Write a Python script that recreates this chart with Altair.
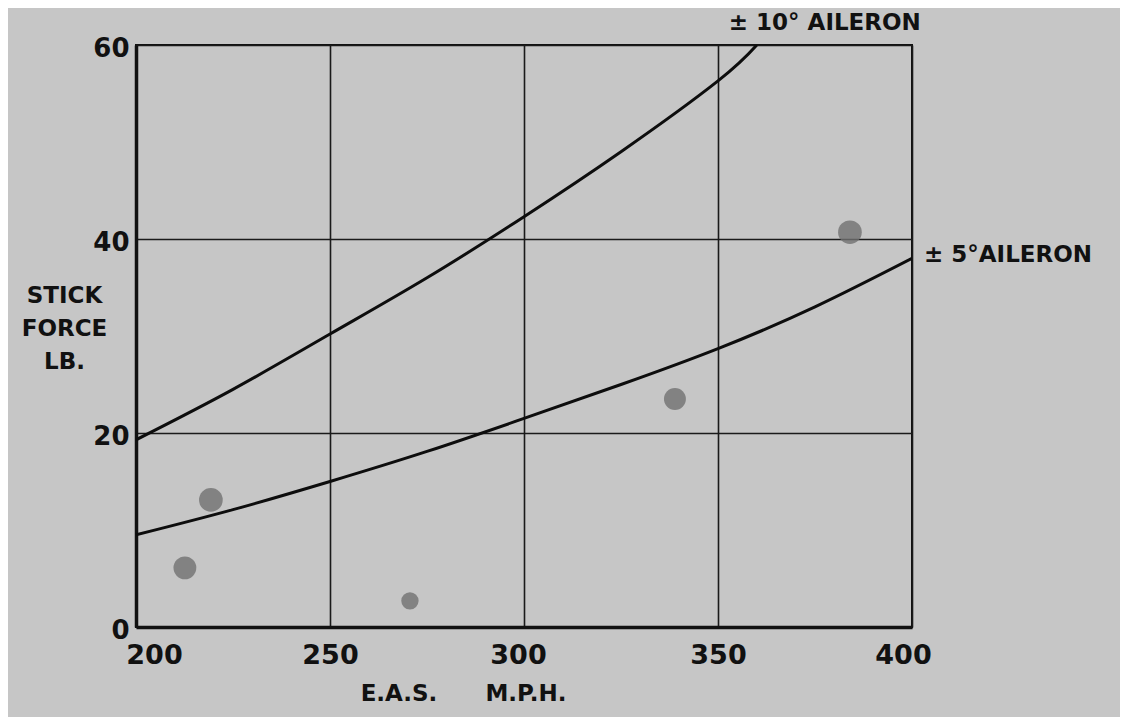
import altair as alt
import pandas as pd

# curve readings
eas_10 = [200, 225, 250, 275, 300, 325, 350, 360]
force_10 = [19.3, 24.5, 30.2, 36.0, 42.3, 49.0, 56.3, 60.0]
eas_5 = [200, 225, 250, 275, 300, 325, 350, 375, 400]
force_5 = [9.5, 12.1, 15.0, 18.1, 21.5, 25.0, 28.7, 33.0, 38.0]
# scattered dots
dot_eas = [212.6, 219.3, 270.6, 338.9, 384.0]
dot_force = [6.1, 13.1, 2.7, 23.5, 40.7]
dot_size = [520, 560, 300, 480, 560]

x_ticks = [200, 250, 300, 350, 400]
y_ticks = [0, 20, 40, 60]

curves = pd.DataFrame(
    [{"eas": e, "force": f, "series": "10"} for e, f in zip(eas_10, force_10)]
    + [{"eas": e, "force": f, "series": "5"} for e, f in zip(eas_5, force_5)]
)
dots = pd.DataFrame({"eas": dot_eas, "force": dot_force, "size": dot_size})
labels = pd.DataFrame({
    "eas": [360, 400],
    "force": [60, 38],
    "text": ["± 10° AILERON", "± 5°AILERON"],
})

FONT = "DejaVu Sans"
INK = "#111111"
NB = "\u00a0"

x_scale = alt.Scale(domain=[200, 400], nice=False, zero=False)
y_scale = alt.Scale(domain=[0, 60], nice=False)

x_axis = alt.Axis(
    values=x_ticks, grid=True, gridColor="#1a1a1a", gridWidth=1.6, gridOpacity=1,
    domainColor=INK, domainWidth=3.5, ticks=False, labelPadding=15, labelFlush=False,
    labelOffset=alt.expr("datum.value == 200 ? 18 : datum.value == 400 ? -9 : datum.value == 300 ? -6 : 0"),
    labelFont=FONT, labelFontSize=27, labelFontWeight="bold", labelColor=INK,
    title="E.A.S." + NB * 6 + "M.P.H.", titleFont=FONT, titleFontSize=23, titleFontWeight="bold",
    titleColor=INK, titleX=327, titleY=66, titleAlign="center", titleBaseline="middle",
)
y_axis = alt.Axis(
    values=y_ticks, grid=True, gridColor="#1a1a1a", gridWidth=1.6, gridOpacity=1,
    domainColor=INK, domainWidth=3.5, ticks=False, labelPadding=7, labelFlush=False,
    labelOffset=3,
    labelFont=FONT, labelFontSize=26, labelFontWeight="bold", labelColor=INK,
    title=["STICK", "FORCE", "LB."], titleFont=FONT, titleFontSize=23,
    titleFontWeight="bold", titleColor=INK, titleAngle=0,
    titleAlign="center", titleBaseline="middle", titleLineHeight=33,
    titleX=-72, titleY=250,
)

lines = alt.Chart(curves).mark_line(
    color="#0d0d0d", strokeWidth=3, interpolate="natural", clip=True
).encode(
    x=alt.X("eas:Q", scale=x_scale, axis=x_axis),
    y=alt.Y("force:Q", scale=y_scale, axis=y_axis),
    detail="series:N",
)

pts = alt.Chart(dots).mark_circle(color="#717171", opacity=0.8).encode(
    x=alt.X("eas:Q", scale=x_scale),
    y=alt.Y("force:Q", scale=y_scale),
    size=alt.Size("size:Q", scale=None, legend=None),
)

txt10 = alt.Chart(labels.iloc[[0]]).mark_text(
    font=FONT, fontSize=23, fontWeight="bold", color=INK, align="left",
    baseline="middle", dx=-28, dy=-22
).encode(x=alt.X("eas:Q", scale=x_scale), y=alt.Y("force:Q", scale=y_scale), text="text:N")
txt5 = alt.Chart(labels.iloc[[1]]).mark_text(
    font=FONT, fontSize=23, fontWeight="bold", color=INK, align="left",
    baseline="middle", dx=12, dy=-3
).encode(x=alt.X("eas:Q", scale=x_scale), y=alt.Y("force:Q", scale=y_scale), text="text:N")

chart = alt.layer(pts, lines, txt10, txt5).properties(
    width=776, height=582,
    autosize=alt.AutoSizeParams(type="none"),
    padding={"left": 128, "top": 37, "right": 208, "bottom": 90},
    background="#c6c6c6",
).configure_view(
    stroke=INK, strokeWidth=2, fill="#c6c6c6"
)

chart.save("out.html", embed_options={"renderer": "svg", "actions": False})
